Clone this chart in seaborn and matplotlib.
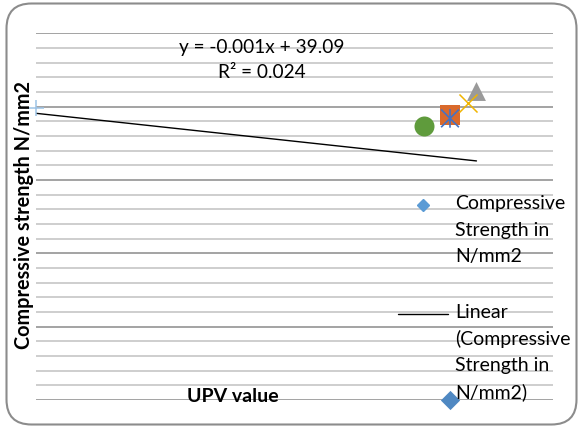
import matplotlib
matplotlib.use("Agg")
import matplotlib.pyplot as plt
import seaborn as sns
import pandas as pd
from matplotlib.path import Path
from matplotlib.patches import FancyBboxPatch
from matplotlib.lines import Line2D

# UPV readings and compressive strengths (one colour/marker per specimen)
upv = [6102, 6102, 6492, 6363, 6102, 5723, 0]
strength = [0.0, 38.9, 42.1, 40.5, 38.4, 37.3, 39.8]
point_colors = ["#4f88c2", "#d9692b", "#9a9a9a", "#f0b400", "#4472c4", "#5f9b3c", "#9dc3e6"]

# fitted linear trend shown on the chart
slope = -0.001
intercept = 39.09
r_squared = 0.024

series_name = "Compressive Strength in N/mm2"
x_title = "UPV value"
y_title = "Compressive strength N/mm2"

W, H, DPI = 579, 428, 100
FONT = "Lato"
FS = 14

sns.set_theme(style="white")
plt.rcParams["font.family"] = [FONT, "DejaVu Sans"]

fig = plt.figure(figsize=(W / DPI, H / DPI), dpi=DPI)
ax = fig.add_axes([36 / W, 1 - 400 / H, (553 - 36) / W, (400 - 33.3) / H])


def fx(px):
    return px / W


def fy(py):
    return 1 - py / H


# asterisk: an X crossed by a vertical stroke
asterisk = Path(
    [(-1, -1), (1, 1), (-1, 1), (1, -1), (0, -1.05), (0, 1.05)],
    [Path.MOVETO, Path.LINETO, Path.MOVETO, Path.LINETO, Path.MOVETO, Path.LINETO],
)

markers = ["D", "s", "^", "x", asterisk, "o", "+"]
sizes = [9.8, 14.2, 13.6, 13.0, 13.4, 14.4, 12.0]
filled = [True, True, True, False, False, True, False]

df = pd.DataFrame({"upv": upv, "strength": strength})

for i in range(len(df)):
    sub = df.iloc[[i]]
    kw = dict(marker=markers[i], s=sizes[i] ** 2, clip_on=False, zorder=3 + i, legend=False)
    if filled[i]:
        kw.update(color=point_colors[i], edgecolor=point_colors[i], linewidth=0)
    elif markers[i] is asterisk:
        kw.update(facecolor="none", edgecolor=point_colors[i], linewidth=1.2)
    else:
        kw.update(color=point_colors[i], linewidth=1.1)
    sns.scatterplot(data=sub, x="upv", y="strength", ax=ax, **kw)

# trendline across the data range
x0, x1 = min(upv), max(upv)
trend = pd.DataFrame({"upv": [x0, x1], "fit": [intercept + slope * x0, intercept + slope * x1]})
sns.lineplot(data=trend, x="upv", y="fit", ax=ax, color="black", linewidth=1.0, zorder=2)

ax.set_xlim(0, 7620)
ax.set_ylim(0, 50)
ax.set_yticks(range(0, 51, 10))
ax.set_yticks(range(0, 51, 2), minor=True)
ax.set_xticks([])
ax.grid(False)
ax.yaxis.grid(True, which="major", color="#8f8f8f", linewidth=1.15)
ax.yaxis.grid(True, which="minor", color="#c4c4c4", linewidth=1.15)
ax.set_axisbelow(True)
ax.tick_params(axis="both", which="both", length=0, labelleft=False, labelbottom=False)
for sp in ax.spines.values():
    sp.set_visible(False)
ax.set_xlabel("")
ax.set_ylabel("")

# axis titles
fig.text(fx(24), fy(215), y_title, rotation=90, ha="center", va="center",
         fontsize=FS + 0.3, fontweight="bold", color="black")
fig.text(fx(232.5), fy(397), x_title, ha="center", va="center",
         fontsize=FS, fontweight="bold", color="black")

# trendline equation
fig.text(fx(261.5), fy(47), f"y = {slope}x + {intercept}", ha="center", va="center",
         fontsize=FS - 0.3, color="black")
fig.text(fx(261.5), fy(72), f"R² = {r_squared}", ha="center", va="center",
         fontsize=FS - 0.3, color="black")

# legend
fig.add_artist(Line2D([fx(423)], [fy(205)], marker="D", markersize=6.5, color="#5b9bd5",
                      linestyle="none", transform=fig.transFigure))
fig.add_artist(Line2D([fx(398), fx(448)], [fy(314), fy(314)], color="black", linewidth=1.0,
                      transform=fig.transFigure))
leg_lines = ["Compressive", "Strength in", "N/mm2"]
for k, t in enumerate(leg_lines):
    fig.text(fx(455), fy(204 + 26.2 * k), t, ha="left", va="center", fontsize=FS, color="black")
trend_lines = ["Linear", "(Compressive", "Strength in", "N/mm2)"]
for k, t in enumerate(trend_lines):
    fig.text(fx(455), fy(313 + 26.3 * k), t, ha="left", va="center", fontsize=FS, color="black")

# rounded chart border
border = FancyBboxPatch((6.5, 3.5), 570, 421, boxstyle="round,pad=0,rounding_size=25",
                        transform=None, facecolor="none", edgecolor="#8c8c8c", linewidth=1.5)
fig.add_artist(border)

fig.savefig("out.png", dpi=DPI)
